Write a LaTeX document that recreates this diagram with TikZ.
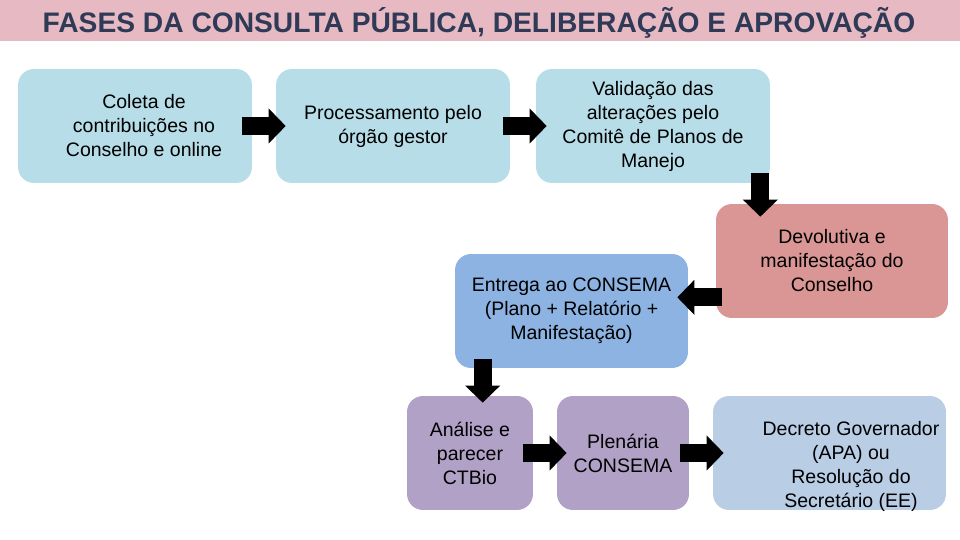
\documentclass[tikz,border=0pt]{standalone}
\usepackage{fontspec}
\setmainfont{Liberation Sans}
\usetikzlibrary{arrows.meta,calc}
\definecolor{faixa}{HTML}{E6B9C3}
\definecolor{azultitulo}{HTML}{2E3A56}
\definecolor{azulclaro}{HTML}{B7DDE8}
\definecolor{rosa}{HTML}{D99694}
\definecolor{azulmedio}{HTML}{8DB3E2}
\definecolor{lilas}{HTML}{B2A1C7}
\definecolor{azulpalido}{HTML}{B9CDE5}

\begin{document}
\begin{tikzpicture}[x=0.02cm,y=-0.02cm,
  texto/.style={align=center,inner sep=0pt,font=\fontsize{11.1}{13.66}\selectfont},
  caixa/.style={texto,rectangle,rounded corners=0.32cm,minimum height=2.28cm},
  seta/.style={line width=0.36cm,-{Triangle[length=0.34cm,width=0.68cm]}}]
\useasboundingbox (0,0) rectangle (960,540);

% faixa do titulo
\fill[faixa] (0,0) rectangle (960,41);
\node[anchor=base,text=azultitulo,font=\bfseries\fontsize{16.05}{19}\selectfont] (titulo) at (479,33) {FASES DA CONSULTA PÚBLICA, DELIBERAÇÃO E APROVAÇÃO};

% caixas
\node[caixa,fill=azulclaro,minimum width=4.68cm] (coleta) at (135,126) {};
\node[texto] (tcoleta) at (144,126) {Coleta de\\contribuições no\\Conselho e online};
\node[caixa,fill=azulclaro,minimum width=4.68cm] (proc) at (393,126) {Processamento pelo\\órgão gestor};
\node[caixa,fill=azulclaro,minimum width=4.68cm] (valid) at (653,126) {Validação das\\alterações pelo\\Comitê de Planos de\\Manejo};
\node[caixa,fill=rosa,minimum width=4.64cm] (devol) at (832,261) {Devolutiva e\\manifestação do\\Conselho};
\node[caixa,fill=azulmedio,minimum width=4.66cm] (entrega) at (571.5,311) {Entrega ao CONSEMA\\(Plano + Relatório +\\Manifestação)};
\node[caixa,fill=lilas,minimum width=2.52cm] (analise) at (470,453) {Análise e\\parecer\\CTBio};
\node[caixa,fill=lilas,minimum width=2.64cm] (plen) at (623,453) {Plenária\\CONSEMA};
\node[caixa,fill=azulpalido,minimum width=4.66cm] (decreto) at (829.5,453) {};
\node[texto] (tdecreto) at (851,466) {Decreto Governador\\(APA) ou\\Resolução do\\Secretário (EE)};

% setas
\draw[seta] ($(coleta.east)+(-10,0)$) -- ($(proc.west)+(10,0)$);
\draw[seta] ($(proc.east)+(-7,0)$) -- ($(valid.west)+(11,0)$);
\draw[seta] ($(valid.south east)+(-10,-10)$) -- ($(valid.south east |- devol.north)+(-10,13)$);
\draw[seta] ($(devol.south west)+(6,-21)$) -- ($(entrega.east |- devol.south west)+(-11,-21)$);
\draw[seta] ($(entrega.south west)+(28,-9)$) -- ($(entrega.south west |- analise.north)+(28,7)$);
\draw[seta] ($(analise.east)+(-10,0)$) -- ($(plen.west)+(10,0)$);
\draw[seta] ($(plen.east)+(-9,0)$) -- ($(decreto.west)+(11,0)$);
\end{tikzpicture}
\end{document}
